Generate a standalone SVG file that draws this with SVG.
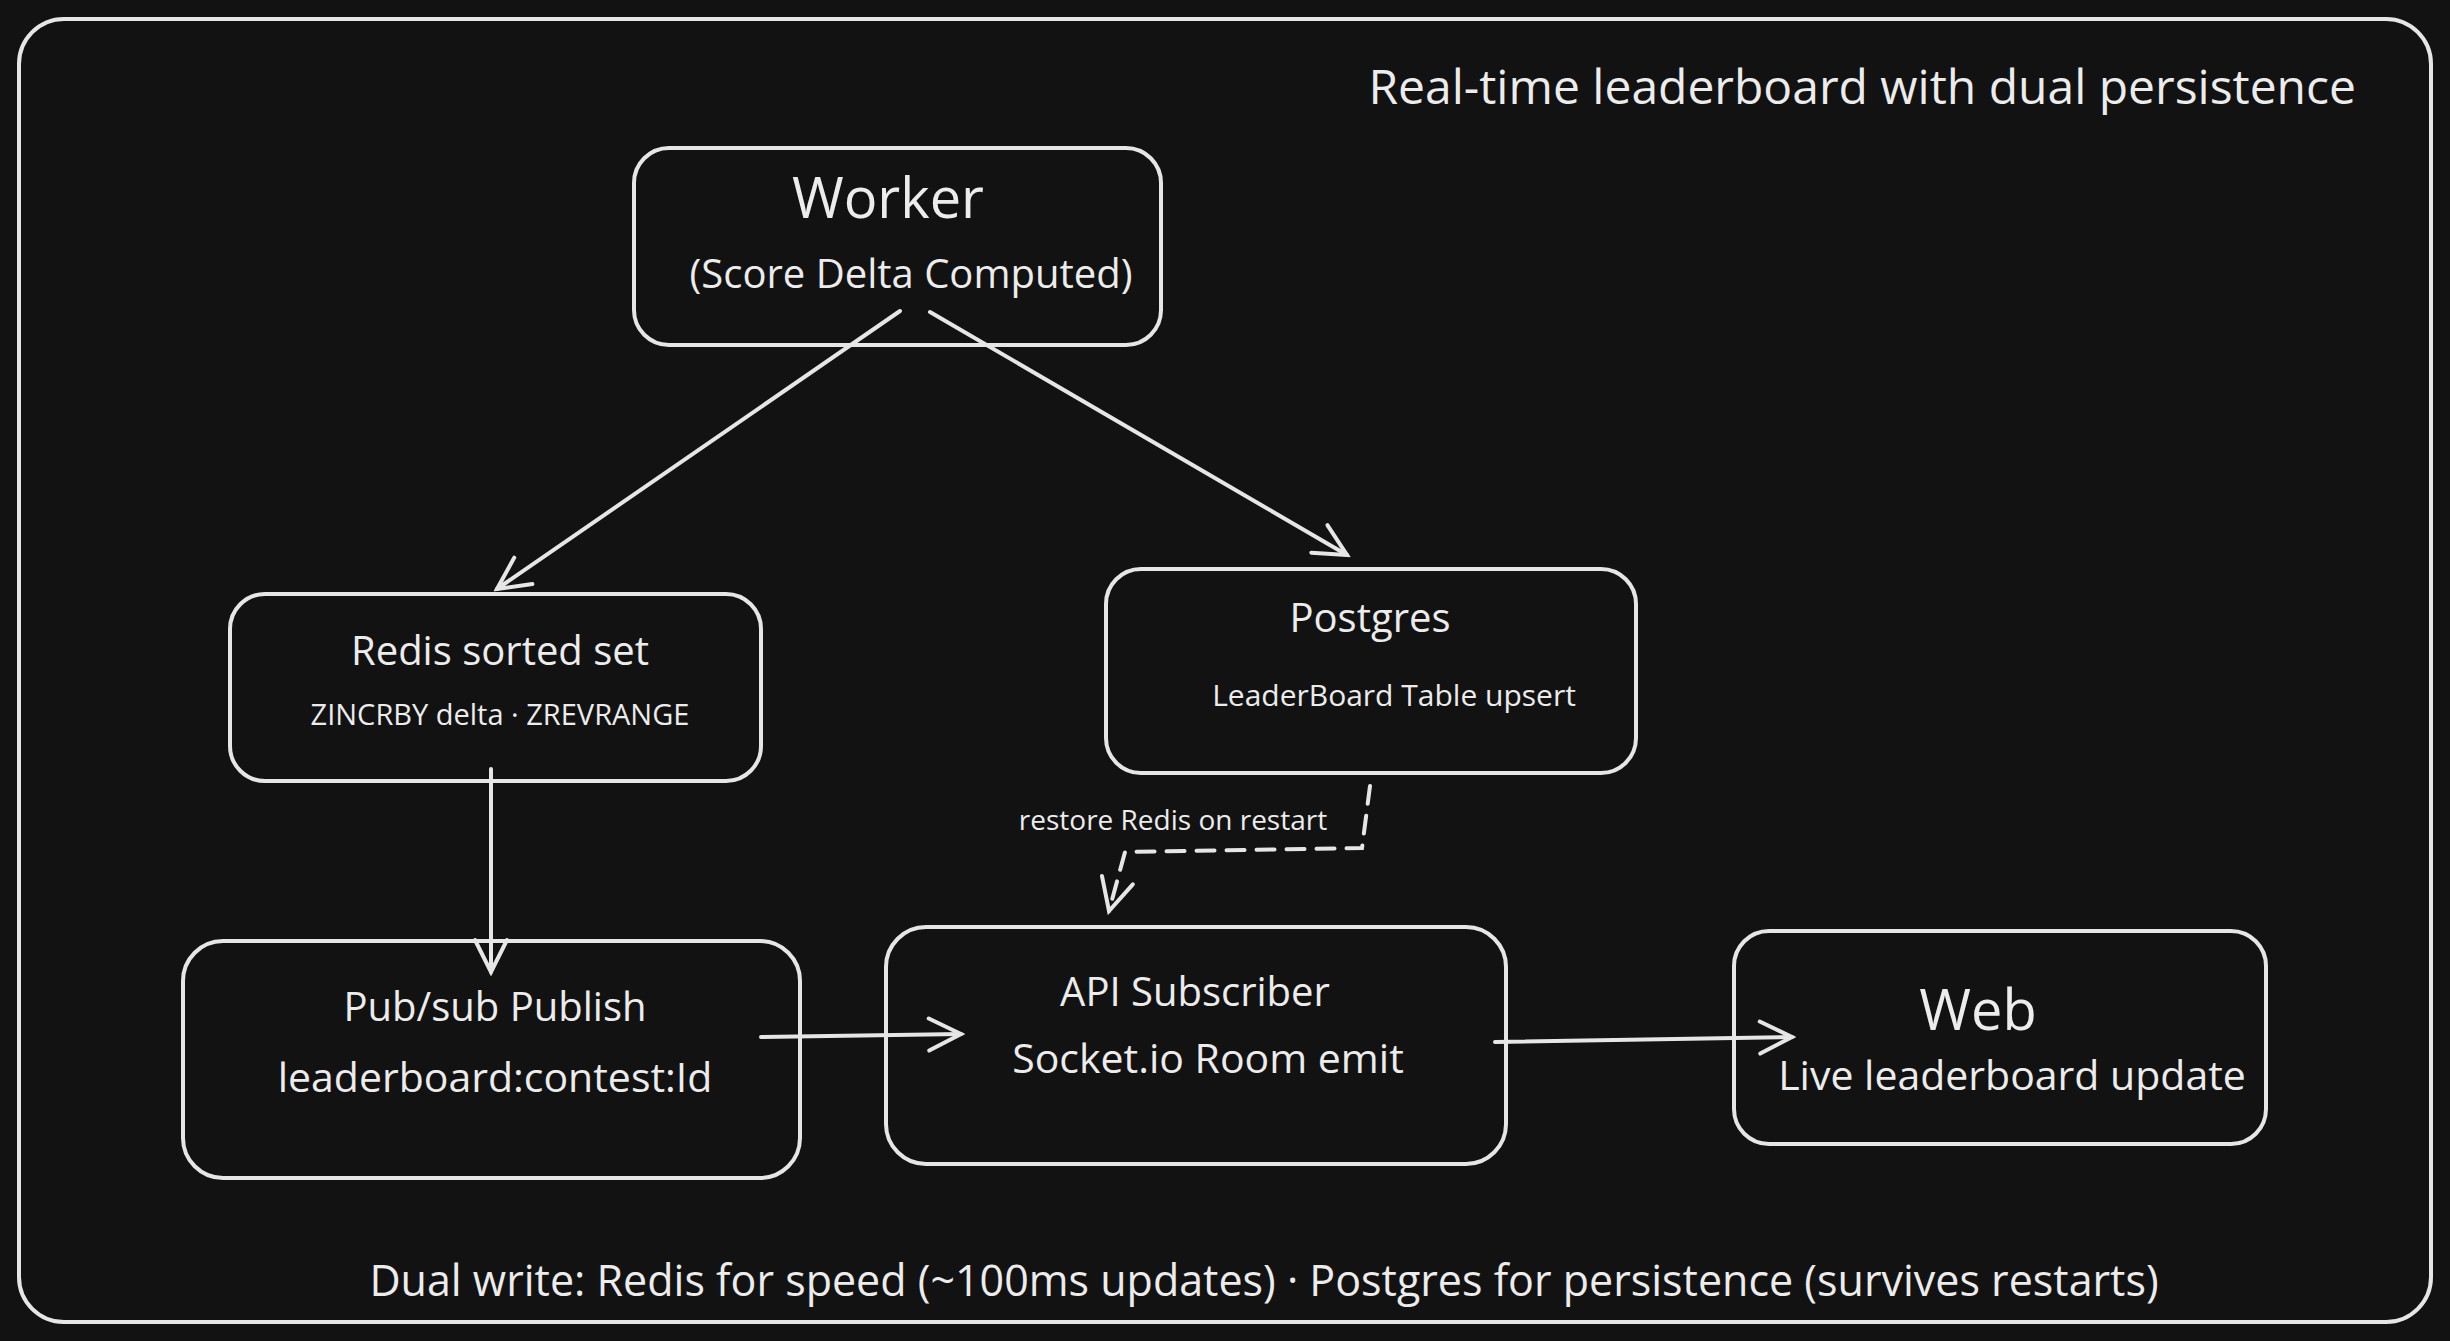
<svg xmlns="http://www.w3.org/2000/svg" width="2450" height="1341" viewBox="0 0 2450 1341">
<style>
.box{fill:none;stroke:#e6e6e6;stroke-width:4}
.t{fill:#ececec;font-family:"Open Sans","Liberation Sans",sans-serif;text-anchor:middle}
.c{fill:none;stroke:#e6e6e6;stroke-width:4;stroke-linecap:round}
</style>
<defs>
<marker id="a" viewBox="0 0 20 20" refX="18" refY="10" markerWidth="10" markerHeight="10" markerUnits="strokeWidth" orient="auto">
<path d="M2,2 L18,10 L2,18" fill="none" stroke="#e6e6e6" stroke-width="2" stroke-linecap="round"/>
</marker>
</defs>
<rect width="2450" height="1341" fill="#121212"/>
<rect x="19" y="19" width="2412" height="1303" rx="45" class="box"/>
<text class="t" x="2356" y="104" style="text-anchor:end" font-size="48">Real-time leaderboard with dual persistence</text>
<g id="worker"><rect x="634" y="148" width="527" height="197" rx="35" class="box"/>
<text class="t" x="888" y="218" font-size="56">Worker</text>
<text class="t" x="911" y="288" font-size="40">(Score Delta Computed)</text></g>
<g id="redis"><rect x="230" y="594" width="531" height="187" rx="35" class="box"/>
<text class="t" x="500" y="665" font-size="40">Redis sorted set</text>
<text class="t" x="500" y="725" font-size="29">ZINCRBY delta · ZREVRANGE</text></g>
<g id="postgres"><rect x="1106" y="569" width="530" height="204" rx="35" class="box"/>
<text class="t" x="1370" y="632" font-size="40">Postgres</text>
<text class="t" x="1394" y="706" font-size="30">LeaderBoard Table upsert</text></g>
<g id="pubsub"><rect x="183" y="941" width="617" height="237" rx="40" class="box"/>
<text class="t" x="495" y="1021" font-size="40">Pub/sub Publish</text>
<text class="t" x="495" y="1092" font-size="41">leaderboard:contest:Id</text></g>
<g id="api"><rect x="886" y="927" width="620" height="237" rx="40" class="box"/>
<text class="t" x="1195" y="1006" font-size="40">API Subscriber</text>
<text class="t" x="1208" y="1073" font-size="41">Socket.io Room emit</text></g>
<g id="web"><rect x="1734" y="931" width="532" height="213" rx="35" class="box"/>
<text class="t" x="1978" y="1030" font-size="56">Web</text>
<text class="t" x="2012" y="1090" font-size="41">Live leaderboard update</text></g>
<g id="connectors">
<path class="c" d="M900,311 L497,589" marker-end="url(#a)"/>
<path class="c" d="M930,312 L1347,555" marker-end="url(#a)"/>
<path class="c" d="M491,769 L491,972" marker-end="url(#a)"/>
<path class="c" d="M761,1037 L961,1034" marker-end="url(#a)"/>
<path class="c" d="M1495,1042 L1792,1037" marker-end="url(#a)"/>
<path class="c" d="M1370,786 L1362,848 L1125,852 L1109,911" stroke-dasharray="18 12" marker-end="url(#a)"/>
<text class="t" x="1173" y="830" font-size="28">restore Redis on restart</text>
</g>
<text class="t" x="1264" y="1296" font-size="43">Dual write: Redis for speed (~100ms updates) · Postgres for persistence (survives restarts)</text>
</svg>
